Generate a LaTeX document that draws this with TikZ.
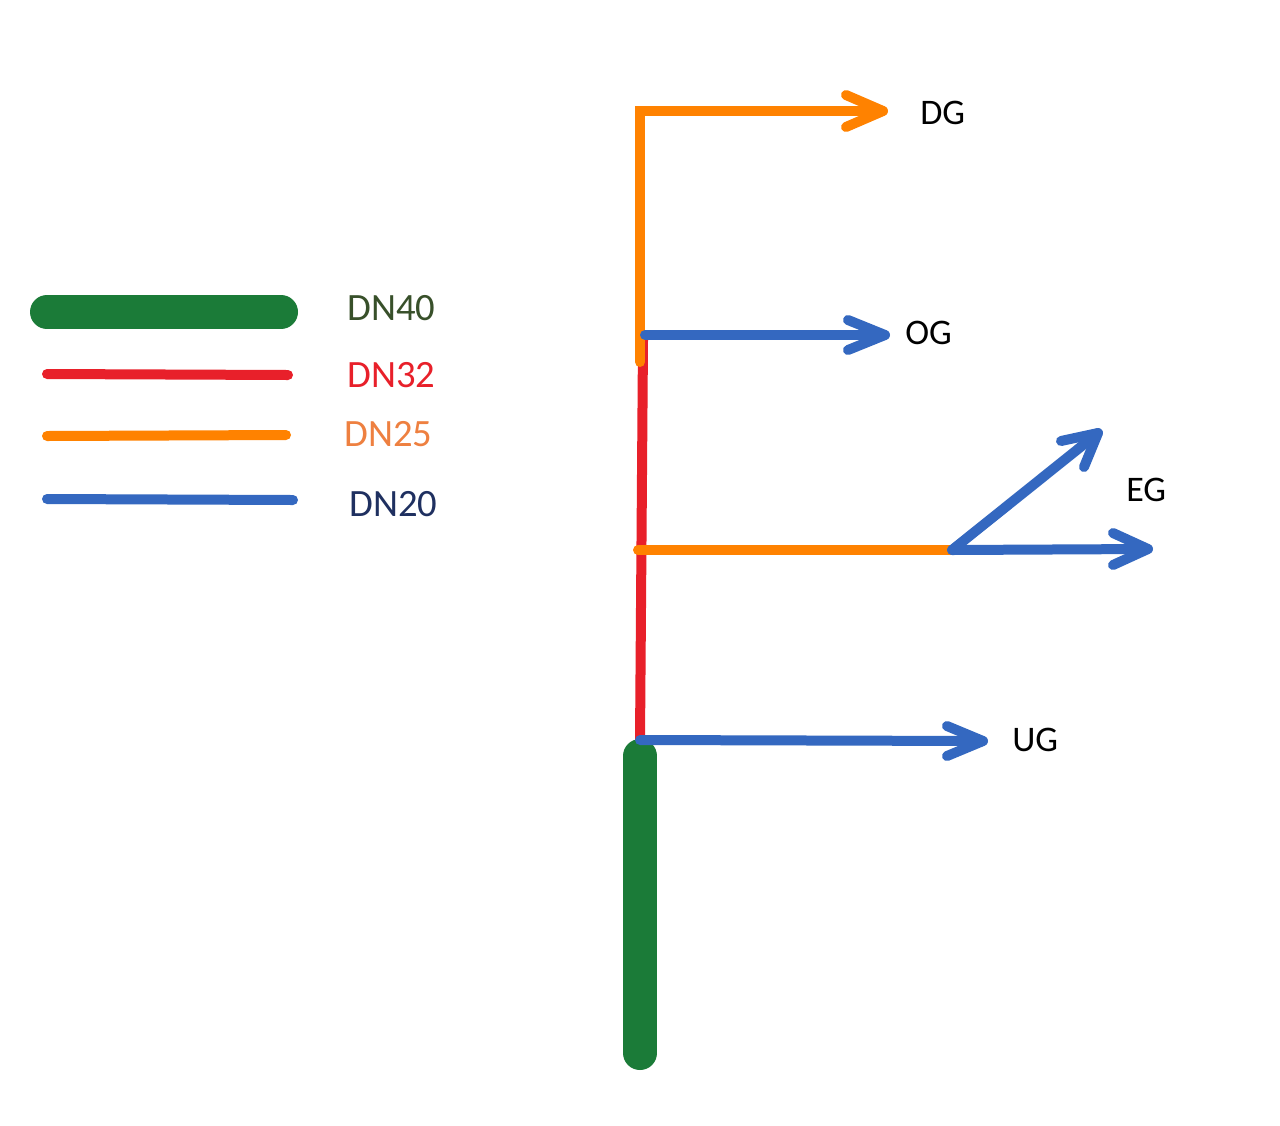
\documentclass[tikz,border=0pt]{standalone}
\usepackage{fontspec}
\setmainfont{Carlito}
\definecolor{pgreen}{HTML}{1B7B38}
\definecolor{pred}{HTML}{E8202A}
\definecolor{porange}{HTML}{FF8200}
\definecolor{pblue}{HTML}{3468C0}
\definecolor{tgreen}{HTML}{38502A}
\definecolor{torange}{HTML}{EE8040}
\definecolor{tblue}{HTML}{1F3060}
\begin{document}
\begin{tikzpicture}[x=0.75pt,y=-0.75pt,
  pipe/.style={line width=7.5pt,line cap=round,line join=round},
  fat/.style={line width=25.5pt,line cap=round},
  leglabel/.style={anchor=west,inner sep=0pt,font=\fontsize{29}{35}\selectfont},
  outlabel/.style={anchor=west,inner sep=0pt,font=\fontsize{27}{32}\selectfont,text=black}]
\fill[white] (0,0) rectangle (1280,1125);
\useasboundingbox (0,0) rectangle (1280,1125);
% legend
\coordinate (g1) at (47,312); \coordinate (g2) at (281,312);
\coordinate (r1) at (47,374); \coordinate (r2) at (288,375);
\coordinate (o1) at (47,436); \coordinate (o2) at (286,435);
\coordinate (b1) at (47,499); \coordinate (b2) at (293,500);
\draw[fat,pgreen] (g1) -- (g2);
\draw[pipe,pred] (r1) -- (r2);
\draw[pipe,porange] (o1) -- (o2);
\draw[pipe,pblue] (b1) -- (b2);
\node[leglabel,text=tgreen] (l40) at (347,308) {DN40};
\node[leglabel,text=pred] (l32) at (347,375) {DN32};
\node[leglabel,text=torange] (l25) at (344,434) {DN25};
\node[leglabel,text=tblue] (l20) at (349,504) {DN20};
% riser
\coordinate (redtop) at (643,340);
\coordinate (redbot) at (640,740);
\coordinate (orbot) at (640,362);
\coordinate (orcorner) at (640,111);
\coordinate (dgtip) at (883,111);
\coordinate (ogstart) at (645,335);
\coordinate (ogtip) at (885,335);
\coordinate (egstart) at (638,550);
\coordinate (egsplit) at (952,550);
\coordinate (egtip1) at (1148,549);
\coordinate (egtip2) at (1098,433);
\coordinate (ugtip) at (983,741);
\coordinate (gtop) at (640,756);
\coordinate (gbot) at (640,1053);
\draw[pipe,pred] (redtop) -- (redbot);
\draw[pipe,porange,line join=miter] (orbot) -- (orcorner) -- (dgtip);
\draw[pipe,porange] (dgtip) -- ++(-37,-16) (dgtip) -- ++(-37,16);
\draw[pipe,porange] (egstart) -- (egsplit);
\draw[fat,pgreen] (gtop) -- (gbot);
\draw[pipe,pblue] (ogstart) -- (ogtip);
\draw[pipe,pblue] (ogtip) -- ++(-37,-15) (ogtip) -- ++(-37,15);
\draw[pipe,pblue] (egsplit) -- (egtip1);
\draw[pipe,pblue] (egtip1) -- ++(-35,-16) (egtip1) -- ++(-35,16);
\draw[pipe,pblue] (egsplit) -- (egtip2);
\draw[pipe,pblue] (egtip2) -- (1061,441) (egtip2) -- (1084,467);
\draw[pipe,pblue] (redbot) -- (ugtip);
\draw[pipe,pblue] (ugtip) -- ++(-36,-15) (ugtip) -- ++(-36,15);
\node[outlabel] (dg) at (920,113) {DG};
\node[outlabel] (og) at (905,333) {OG};
\node[outlabel] (eg) at (1126,490) {EG};
\node[outlabel] (ug) at (1012,740) {UG};
\end{tikzpicture}
\end{document}
